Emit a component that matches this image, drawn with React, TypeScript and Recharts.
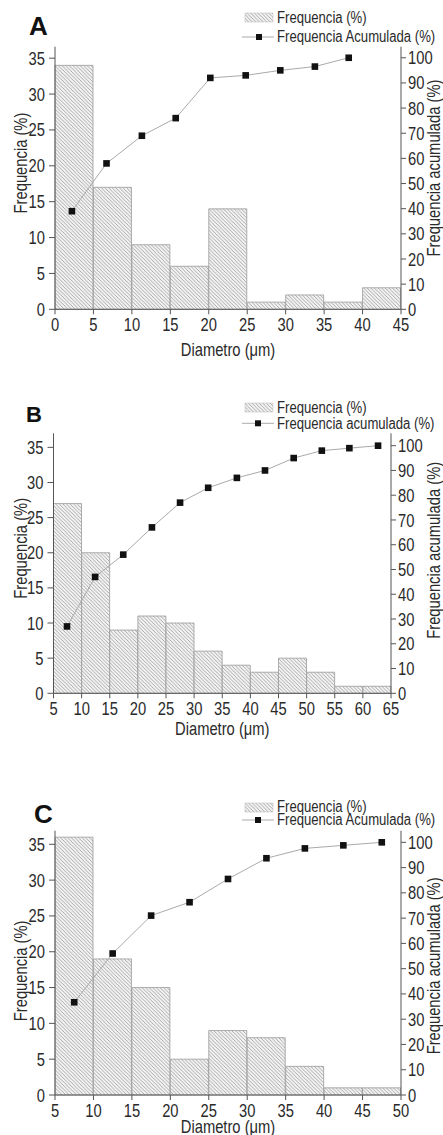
import React from 'react';
import { ComposedChart, Bar, Line, XAxis, YAxis } from 'recharts';

const SANS = '"Liberation Sans", Arial, sans-serif';
const SX = 0.82; // horizontal condensing of the original figure's font
const TEXT = '#2a2a2a';
const AXIS = '#555555';

// ---------- Panel A ----------
const aBinCenters = [2.5, 7.5, 12.5, 17.5, 22.5, 27.5, 32.5, 37.5, 42.5];
const aFrequencia = [34, 17, 9, 6, 14, 1, 2, 1, 3];
const aCumX = [2.2, 6.7, 11.3, 15.7, 20.2, 24.8, 29.3, 33.8, 38.2];
const aAcumulada = [39, 58, 69, 76, 92, 93, 95, 96.5, 100];
const aXTicks = [0, 5, 10, 15, 20, 25, 30, 35, 40, 45];

// ---------- Panel B ----------
const bBinCenters = [7.5, 12.5, 17.5, 22.5, 27.5, 32.5, 37.5, 42.5, 47.5, 52.5, 57.5, 62.5];
const bFrequencia = [27, 20, 9, 11, 10, 6, 4, 3, 5, 3, 1, 1];
const bCumX = [7.4, 12.4, 17.4, 22.5, 27.5, 32.5, 37.6, 42.6, 47.7, 52.7, 57.6, 62.7];
const bAcumulada = [27, 47, 56, 67, 77, 83, 87, 90, 95, 98, 99, 100];
const bXTicks = [5, 10, 15, 20, 25, 30, 35, 40, 45, 50, 55, 60, 65];

// ---------- Panel C ----------
const cBinCenters = [7.5, 12.5, 17.5, 22.5, 27.5, 32.5, 37.5, 42.5, 47.5];
const cFrequencia = [36, 19, 15, 5, 9, 8, 4, 1, 1];
const cCumX = [7.5, 12.5, 17.5, 22.5, 27.5, 32.5, 37.5, 42.5, 47.5];
const cAcumulada = [36.7, 56, 71, 76.3, 85.5, 93.7, 97.6, 98.8, 100];
const cXTicks = [5, 10, 15, 20, 25, 30, 35, 40, 45, 50];

const freqTicks = [0, 5, 10, 15, 20, 25, 30, 35];
const acumTicks = [0, 10, 20, 30, 40, 50, 60, 70, 80, 90, 100];

type NTextProps = {
  x: number;
  y: number;
  anchor?: 'start' | 'middle' | 'end';
  baseline?: string;
  dy?: string | number;
  size: number;
  rotate?: number;
  children: React.ReactNode;
};

const NText = ({ x, y, anchor = 'start', baseline, dy, size, rotate = 0, children }: NTextProps) => (
  <text
    transform={`translate(${x} ${y}) rotate(${rotate}) scale(${SX} 1)`}
    x={0}
    y={0}
    dy={dy}
    textAnchor={anchor}
    dominantBaseline={baseline as any}
    fontFamily={SANS}
    fontSize={size}
    fill={TEXT}
  >
    {children}
  </text>
);

const XTick = (props: any) => {
  const { x, y, payload } = props;
  return (
    <NText x={x} y={y} anchor="middle" dy="0.71em" size={18}>
      {payload.value}
    </NText>
  );
};

const YTick = (props: any) => {
  const { x, y, payload, textAnchor } = props;
  return (
    <NText x={x} y={y} anchor={textAnchor} baseline="central" size={18}>
      {payload.value}
    </NText>
  );
};

const SquareDot = (props: any) => {
  const { cx, cy, index } = props;
  if (cx == null || cy == null) return <g key={`e${index}`} />;
  return <rect key={`d${index}`} x={cx - 3.3} y={cy - 3.3} width={6.6} height={6.6} fill="#111" />;
};

const YTitle = (props: any) => {
  const { viewBox, text, offX, dy } = props;
  const vb = viewBox || { x: 0, y: 0, width: 0, height: 0 };
  const cx = vb.x + offX;
  const cy = vb.y + vb.height / 2 + dy;
  return (
    <NText x={cx} y={cy} rotate={-90} anchor="middle" baseline="central" size={18}>
      {text}
    </NText>
  );
};

const XTitle = (props: any) => {
  const { viewBox, text, offY } = props;
  const vb = viewBox || { x: 0, y: 0, width: 0, height: 0 };
  return (
    <NText x={vb.x + vb.width / 2} y={vb.y + offY} anchor="middle" baseline="central" size={18}>
      {text}
    </NText>
  );
};

const HatchDef = ({ id }: { id: string }) => (
  <pattern id={id} patternUnits="userSpaceOnUse" width={3.6} height={3.6}>
    <rect width={3.6} height={3.6} fill="#f3f3f3" />
    <path d="M0,0 L3.6,3.6 M-1,2.6 L1,4.6 M2.6,-1 L4.6,1" stroke="#8a8a8a" strokeWidth={0.7} />
  </pattern>
);

type PanelProps = {
  id: string;
  top: number;
  height: number;
  plotTop: number;
  plotBottom: number;
  plotLeft: number;
  plotRight: number;
  xDomain: [number, number];
  xTicks: number[];
  bins: number[];
  freq: number[];
  cumX: number[];
  cum: number[];
  leftMax: number;
  rightMax: number;
  leftTitleDy: number;
  rightTitleDy: number;
  rightTitle: string;
  xTitleY: number;
};

const Panel = (p: PanelProps) => {
  const barData = p.bins.map((x, i) => ({ x, f: p.freq[i] }));
  const lineData = p.cumX.map((x, i) => ({ x, c: p.cum[i] }));
  const xAxisH = 40;
  const marginTop = p.plotTop - p.top;
  const marginBottom = p.height - (p.plotBottom - p.top) - xAxisH;
  const hatchId = `hatch-${p.id}`;
  const rightW = 443 - p.plotRight;
  return (
    <div style={{ position: 'absolute', left: 0, top: p.top, width: 443, height: p.height }}>
      <ComposedChart
        width={443}
        height={p.height}
        data={barData}
        barCategoryGap={0}
        barGap={0}
        margin={{ top: marginTop, right: 0, bottom: marginBottom, left: 0 }}
      >
        <defs>
          <HatchDef id={hatchId} />
        </defs>
        <XAxis
          xAxisId="bar"
          dataKey="x"
          type="number"
          domain={p.xDomain}
          ticks={p.xTicks}
          interval={0}
          height={xAxisH}
          tickSize={5}
          tickMargin={4}
          stroke={AXIS}
          tick={(props: any) => <XTick {...props} />}
          label={<XTitle text="Diametro (μm)" offY={p.xTitleY} />}
        />
        <XAxis xAxisId="line" dataKey="x" type="number" domain={p.xDomain} hide />
        <YAxis
          yAxisId="f"
          orientation="left"
          width={p.plotLeft}
          domain={[0, p.leftMax]}
          ticks={freqTicks}
          interval={0}
          tickSize={6}
          tickMargin={4}
          stroke={AXIS}
          tick={(props: any) => <YTick {...props} />}
          label={<YTitle text="Frequencia (%)" offX={20.5} dy={p.leftTitleDy} />}
        />
        <YAxis
          yAxisId="c"
          orientation="right"
          width={rightW}
          domain={[0, p.rightMax]}
          ticks={acumTicks}
          interval={0}
          tickSize={5}
          tickMargin={2}
          stroke={AXIS}
          tick={(props: any) => <YTick {...props} />}
          label={<YTitle text={p.rightTitle} offX={rightW - 10} dy={p.rightTitleDy} />}
        />
        <Bar
          xAxisId="bar"
          yAxisId="f"
          dataKey="f"
          fill={`url(#${hatchId})`}
          stroke="#9a9a9a"
          strokeWidth={0.8}
          isAnimationActive={false}
        />
        <Line
          xAxisId="line"
          yAxisId="c"
          data={lineData}
          dataKey="c"
          stroke="#aaaaaa"
          strokeWidth={1}
          dot={SquareDot}
          activeDot={false}
          isAnimationActive={false}
        />
      </ComposedChart>
    </div>
  );
};

type LegendProps = {
  letter: string;
  letterX: number;
  letterY: number;
  letterSize: number;
  swatchY: number;
  row1Y: number;
  row2Y: number;
  markerX: number;
  text1: string;
  text2: string;
};

const Overlay = ({ items }: { items: LegendProps[] }) => (
  <svg
    width={443}
    height={1135}
    style={{ position: 'absolute', left: 0, top: 0, pointerEvents: 'none' }}
  >
    <defs>
      <HatchDef id="hatch-legend" />
    </defs>
    {items.map((it, i) => (
      <g key={i}>
        <text x={it.letterX} y={it.letterY} fontFamily={SANS} fontWeight="bold" fontSize={it.letterSize} fill="#111">
          {it.letter}
        </text>
        <rect x={245} y={it.swatchY} width={28} height={9} fill="url(#hatch-legend)" stroke="#bbb" strokeWidth={0.5} />
        <NText x={277} y={it.row1Y} baseline="central" size={16}>
          {it.text1}
        </NText>
        <line x1={242} x2={274} y1={it.row2Y} y2={it.row2Y} stroke="#aaaaaa" strokeWidth={1} />
        <rect x={it.markerX - 3} y={it.row2Y - 3} width={6} height={6} fill="#111" />
        <NText x={277} y={it.row2Y} baseline="central" size={16}>
          {it.text2}
        </NText>
      </g>
    ))}
  </svg>
);

const legendItems: LegendProps[] = [
  { letter: 'A', letterX: 29, letterY: 35, letterSize: 26, swatchY: 13, row1Y: 17.7, row2Y: 37, markerX: 259, text1: 'Frequencia (%)', text2: 'Frequencia Acumulada (%)' },
  { letter: 'B', letterX: 26, letterY: 422, letterSize: 22, swatchY: 403, row1Y: 408, row2Y: 423.3, markerX: 258, text1: 'Frequencia (%)', text2: 'Frequencia acumulada (%)' },
  { letter: 'C', letterX: 34, letterY: 823, letterSize: 26, swatchY: 803, row1Y: 806.7, row2Y: 820, markerX: 258, text1: 'Frequencia (%)', text2: 'Frequencia Acumulada (%)' },
];

export default function App() {
  return (
    <div style={{ position: 'absolute', left: 0, top: 0, width: 443, height: 1135, background: '#fff', overflow: 'hidden' }}>
      <Panel
        id="a"
        top={0}
        height={365}
        plotTop={46.7}
        plotBottom={309.3}
        plotLeft={55}
        plotRight={401}
        xDomain={[0, 45]}
        xTicks={aXTicks}
        bins={aBinCenters}
        freq={aFrequencia}
        cumX={aCumX}
        cum={aAcumulada}
        leftMax={36.6}
        rightMax={104.4}
        leftTitleDy={-15}
        rightTitleDy={-10}
        rightTitle="Frequencia acumulada (%)"
        xTitleY={40}
      />
      <Panel
        id="b"
        top={380}
        height={375}
        plotTop={433.3}
        plotBottom={693.3}
        plotLeft={53.5}
        plotRight={391}
        xDomain={[5, 65]}
        xTicks={bXTicks}
        bins={bBinCenters}
        freq={bFrequencia}
        cumX={bCumX}
        cum={bAcumulada}
        leftMax={37}
        rightMax={105}
        leftTitleDy={-15}
        rightTitleDy={-13}
        rightTitle="Frequencia acumulada (%)"
        xTitleY={35}
      />
      <Panel
        id="c"
        top={770}
        height={365}
        plotTop={830.7}
        plotBottom={1095}
        plotLeft={55}
        plotRight={401}
        xDomain={[5, 50]}
        xTicks={cXTicks}
        bins={cBinCenters}
        freq={cFrequencia}
        cumX={cCumX}
        cum={cAcumulada}
        leftMax={36.9}
        rightMax={104.6}
        leftTitleDy={8}
        rightTitleDy={3}
        rightTitle="Frequencia acumulada (%)"
        xTitleY={31}
      />
      <Overlay items={legendItems} />
    </div>
  );
}
